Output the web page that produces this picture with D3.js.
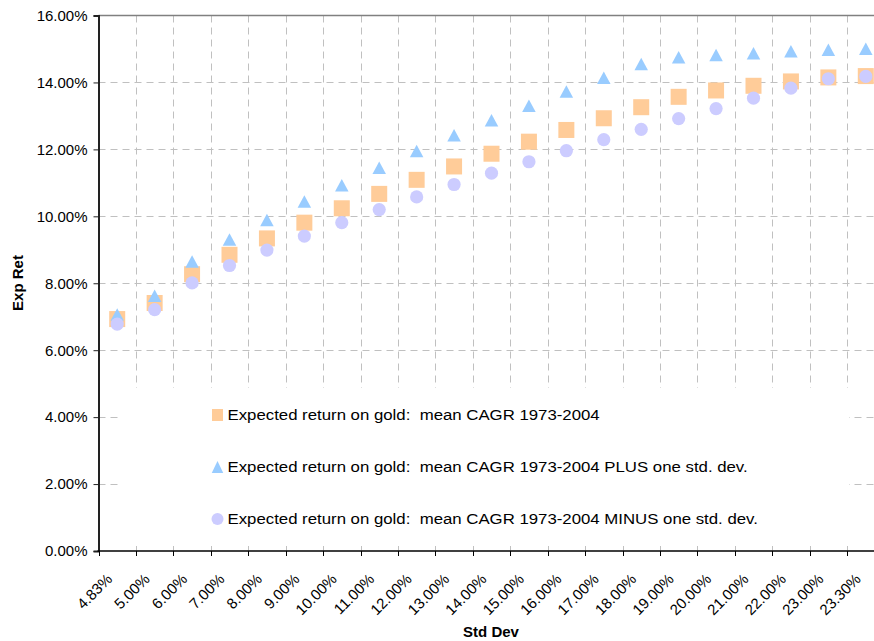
<!DOCTYPE html>
<html>
<head>
<meta charset="utf-8">
<script src="https://cdn.jsdelivr.net/npm/d3@7/dist/d3.min.js"></script>
<style>
  html, body { margin: 0; padding: 0; background: #fff; }
  svg { display: block; font-family: Arial, "Liberation Sans", sans-serif; }
</style>
</head>
<body>
<script>
// Standard deviation categories (x axis)
const categories = ["4.83%", "5.00%", "6.00%", "7.00%", "8.00%", "9.00%", "10.00%",
  "11.00%", "12.00%", "13.00%", "14.00%", "15.00%", "16.00%", "17.00%", "18.00%",
  "19.00%", "20.00%", "21.00%", "22.00%", "23.00%", "23.30%"];

// Expected return (%) for each series
const meanCAGR = [6.93, 7.41, 8.27, 8.85, 9.34, 9.81, 10.24, 10.67, 11.09, 11.49, 11.87,
  12.23, 12.58, 12.93, 13.26, 13.57, 13.76, 13.90, 14.03, 14.15, 14.19];
const plusStd = [7.07, 7.63, 8.65, 9.31, 9.89, 10.44, 10.93, 11.45, 11.95, 12.42, 12.87,
  13.30, 13.73, 14.14, 14.55, 14.75, 14.82, 14.87, 14.93, 14.98, 15.01];
const minusStd = [6.78, 7.21, 8.01, 8.53, 8.99, 9.41, 9.81, 10.20, 10.58, 10.95, 11.29,
  11.63, 11.96, 12.29, 12.60, 12.92, 13.22, 13.53, 13.83, 14.11, 14.18];

// Y axis ticks (%)
const yTicks = [0, 2, 4, 6, 8, 10, 12, 14, 16];

const seriesNames = [
  "Expected return on gold:  mean CAGR 1973-2004",
  "Expected return on gold:  mean CAGR 1973-2004 PLUS one std. dev.",
  "Expected return on gold:  mean CAGR 1973-2004 MINUS one std. dev."
];
const seriesColors = ["#FFCC99", "#99CCFF", "#CCCCFF"];

const W = 874, H = 641;
const plot = { left: 98.5, top: 15.5, right: 884.5, bottom: 551 };

const svg = d3.select("body").append("svg")
  .attr("width", W).attr("height", H);

const x = d3.scaleBand().domain(categories).range([plot.left, plot.right]).padding(0);
const y = d3.scaleLinear().domain([0, 16]).range([plot.bottom, plot.top]);

const gridColor = "#c0c0c0";
const dash = "7,5";

// Horizontal gridlines
svg.append("g").selectAll("line")
  .data(yTicks.filter(t => t > 0 && t < 16))
  .join("line")
  .attr("x1", plot.left).attr("x2", plot.right)
  .attr("y1", d => Math.round(y(d)) + 0.5).attr("y2", d => Math.round(y(d)) + 0.5)
  .attr("stroke", gridColor).attr("stroke-dasharray", dash);

// Vertical gridlines at category boundaries
svg.append("g").selectAll("line")
  .data(categories.slice(1))
  .join("line")
  .attr("x1", d => Math.round(x(d)) + 0.5).attr("x2", d => Math.round(x(d)) + 0.5)
  .attr("y1", plot.top).attr("y2", plot.bottom)
  .attr("stroke", gridColor).attr("stroke-dasharray", dash);

// Plot area top border
svg.append("line")
  .attr("x1", plot.left).attr("x2", plot.right)
  .attr("y1", plot.top).attr("y2", plot.top)
  .attr("stroke", "#808080").attr("stroke-width", 1.5);

// Legend box (white, covers the gridlines beneath)
const legend = { x: 122, y: 388, w: 727, h: 158 };
svg.append("rect")
  .attr("x", legend.x).attr("y", legend.y)
  .attr("width", legend.w).attr("height", legend.h)
  .attr("fill", "#fff");

// Y axis
const yAxis = d3.axisLeft(y).tickValues(yTicks)
  .tickFormat(d => d.toFixed(2) + "%").tickSize(5).tickPadding(6);
const gy = svg.append("g").attr("transform", `translate(${plot.left},0)`).call(yAxis);
gy.select(".domain").attr("stroke", "#222").attr("stroke-width", 2);
gy.selectAll(".tick line").attr("stroke", "#222");
gy.selectAll(".tick text")
  .attr("font-size", 15).attr("fill", "#000")
  .attr("font-family", "Arial, 'Liberation Sans', sans-serif");

// X axis with ticks at category boundaries
const gx = svg.append("g").attr("transform", `translate(0,${plot.bottom})`);
gx.append("line")
  .attr("x1", plot.left - 1).attr("x2", plot.right)
  .attr("y1", 0).attr("y2", 0)
  .attr("stroke", "#000").attr("stroke-width", 1.5);
gx.selectAll("line.tk")
  .data(categories.concat(["end"]))
  .join("line").attr("class", "tk")
  .attr("x1", (d, i) => Math.round(plot.left + i * x.bandwidth()) + 0.5)
  .attr("x2", (d, i) => Math.round(plot.left + i * x.bandwidth()) + 0.5)
  .attr("y1", 0).attr("y2", 5)
  .attr("stroke", "#000");
gx.selectAll("text")
  .data(categories)
  .join("text")
  .attr("transform", d => `translate(${x(d) + x.bandwidth() / 2 - 4},29) rotate(-45)`)
  .attr("text-anchor", "end")
  .attr("font-size", 15)
  .attr("fill", "#000")
  .text(d => d);

// Axis titles
svg.append("text")
  .attr("transform", `translate(23,283) rotate(-90)`)
  .attr("text-anchor", "middle")
  .attr("font-size", 15).attr("font-weight", "bold")
  .text("Exp Ret");
svg.append("text")
  .attr("x", 491).attr("y", 637)
  .attr("text-anchor", "middle")
  .attr("font-size", 15).attr("font-weight", "bold")
  .text("Std Dev");

// Marker shapes
function trianglePath(w, h) {
  return `M0,${-h / 2}L${w / 2},${h / 2}L${-w / 2},${h / 2}Z`;
}
const cx = (d, i) => x(categories[i]) + x.bandwidth() / 2;

// Series 1: squares
svg.append("g").selectAll("rect")
  .data(meanCAGR)
  .join("rect")
  .attr("x", (d, i) => cx(d, i) - 8).attr("y", d => y(d) - 8)
  .attr("width", 16).attr("height", 16)
  .attr("fill", seriesColors[0]);

// Series 2: triangles
svg.append("g").selectAll("path")
  .data(plusStd)
  .join("path")
  .attr("transform", (d, i) => `translate(${cx(d, i)},${y(d)})`)
  .attr("d", trianglePath(13.5, 12.5))
  .attr("fill", seriesColors[1]);

// Series 3: circles
svg.append("g").selectAll("circle")
  .data(minusStd)
  .join("circle")
  .attr("cx", (d, i) => cx(d, i)).attr("cy", d => y(d))
  .attr("r", 6.6)
  .attr("fill", seriesColors[2]);

// Legend entries
const rowY = [415, 467, 519];
const lg = svg.append("g");
seriesNames.forEach((name, i) => {
  const g = lg.append("g").attr("transform", `translate(217.5,${rowY[i]})`);
  if (i === 0) {
    g.append("rect").attr("x", -5.5).attr("y", -6).attr("width", 11).attr("height", 12)
      .attr("fill", seriesColors[0]);
  } else if (i === 1) {
    g.append("path").attr("d", trianglePath(11.5, 12)).attr("fill", seriesColors[1]);
  } else {
    g.append("circle").attr("r", 6).attr("fill", seriesColors[2]);
  }
  g.append("text")
    .attr("transform", "translate(10,0) scale(1.12,1)")
    .attr("dy", "0.36em")
    .attr("font-size", 15)
    .attr("fill", "#000")
    .attr("xml:space", "preserve")
    .style("white-space", "pre")
    .text(name);
});
</script>
</body>
</html>
